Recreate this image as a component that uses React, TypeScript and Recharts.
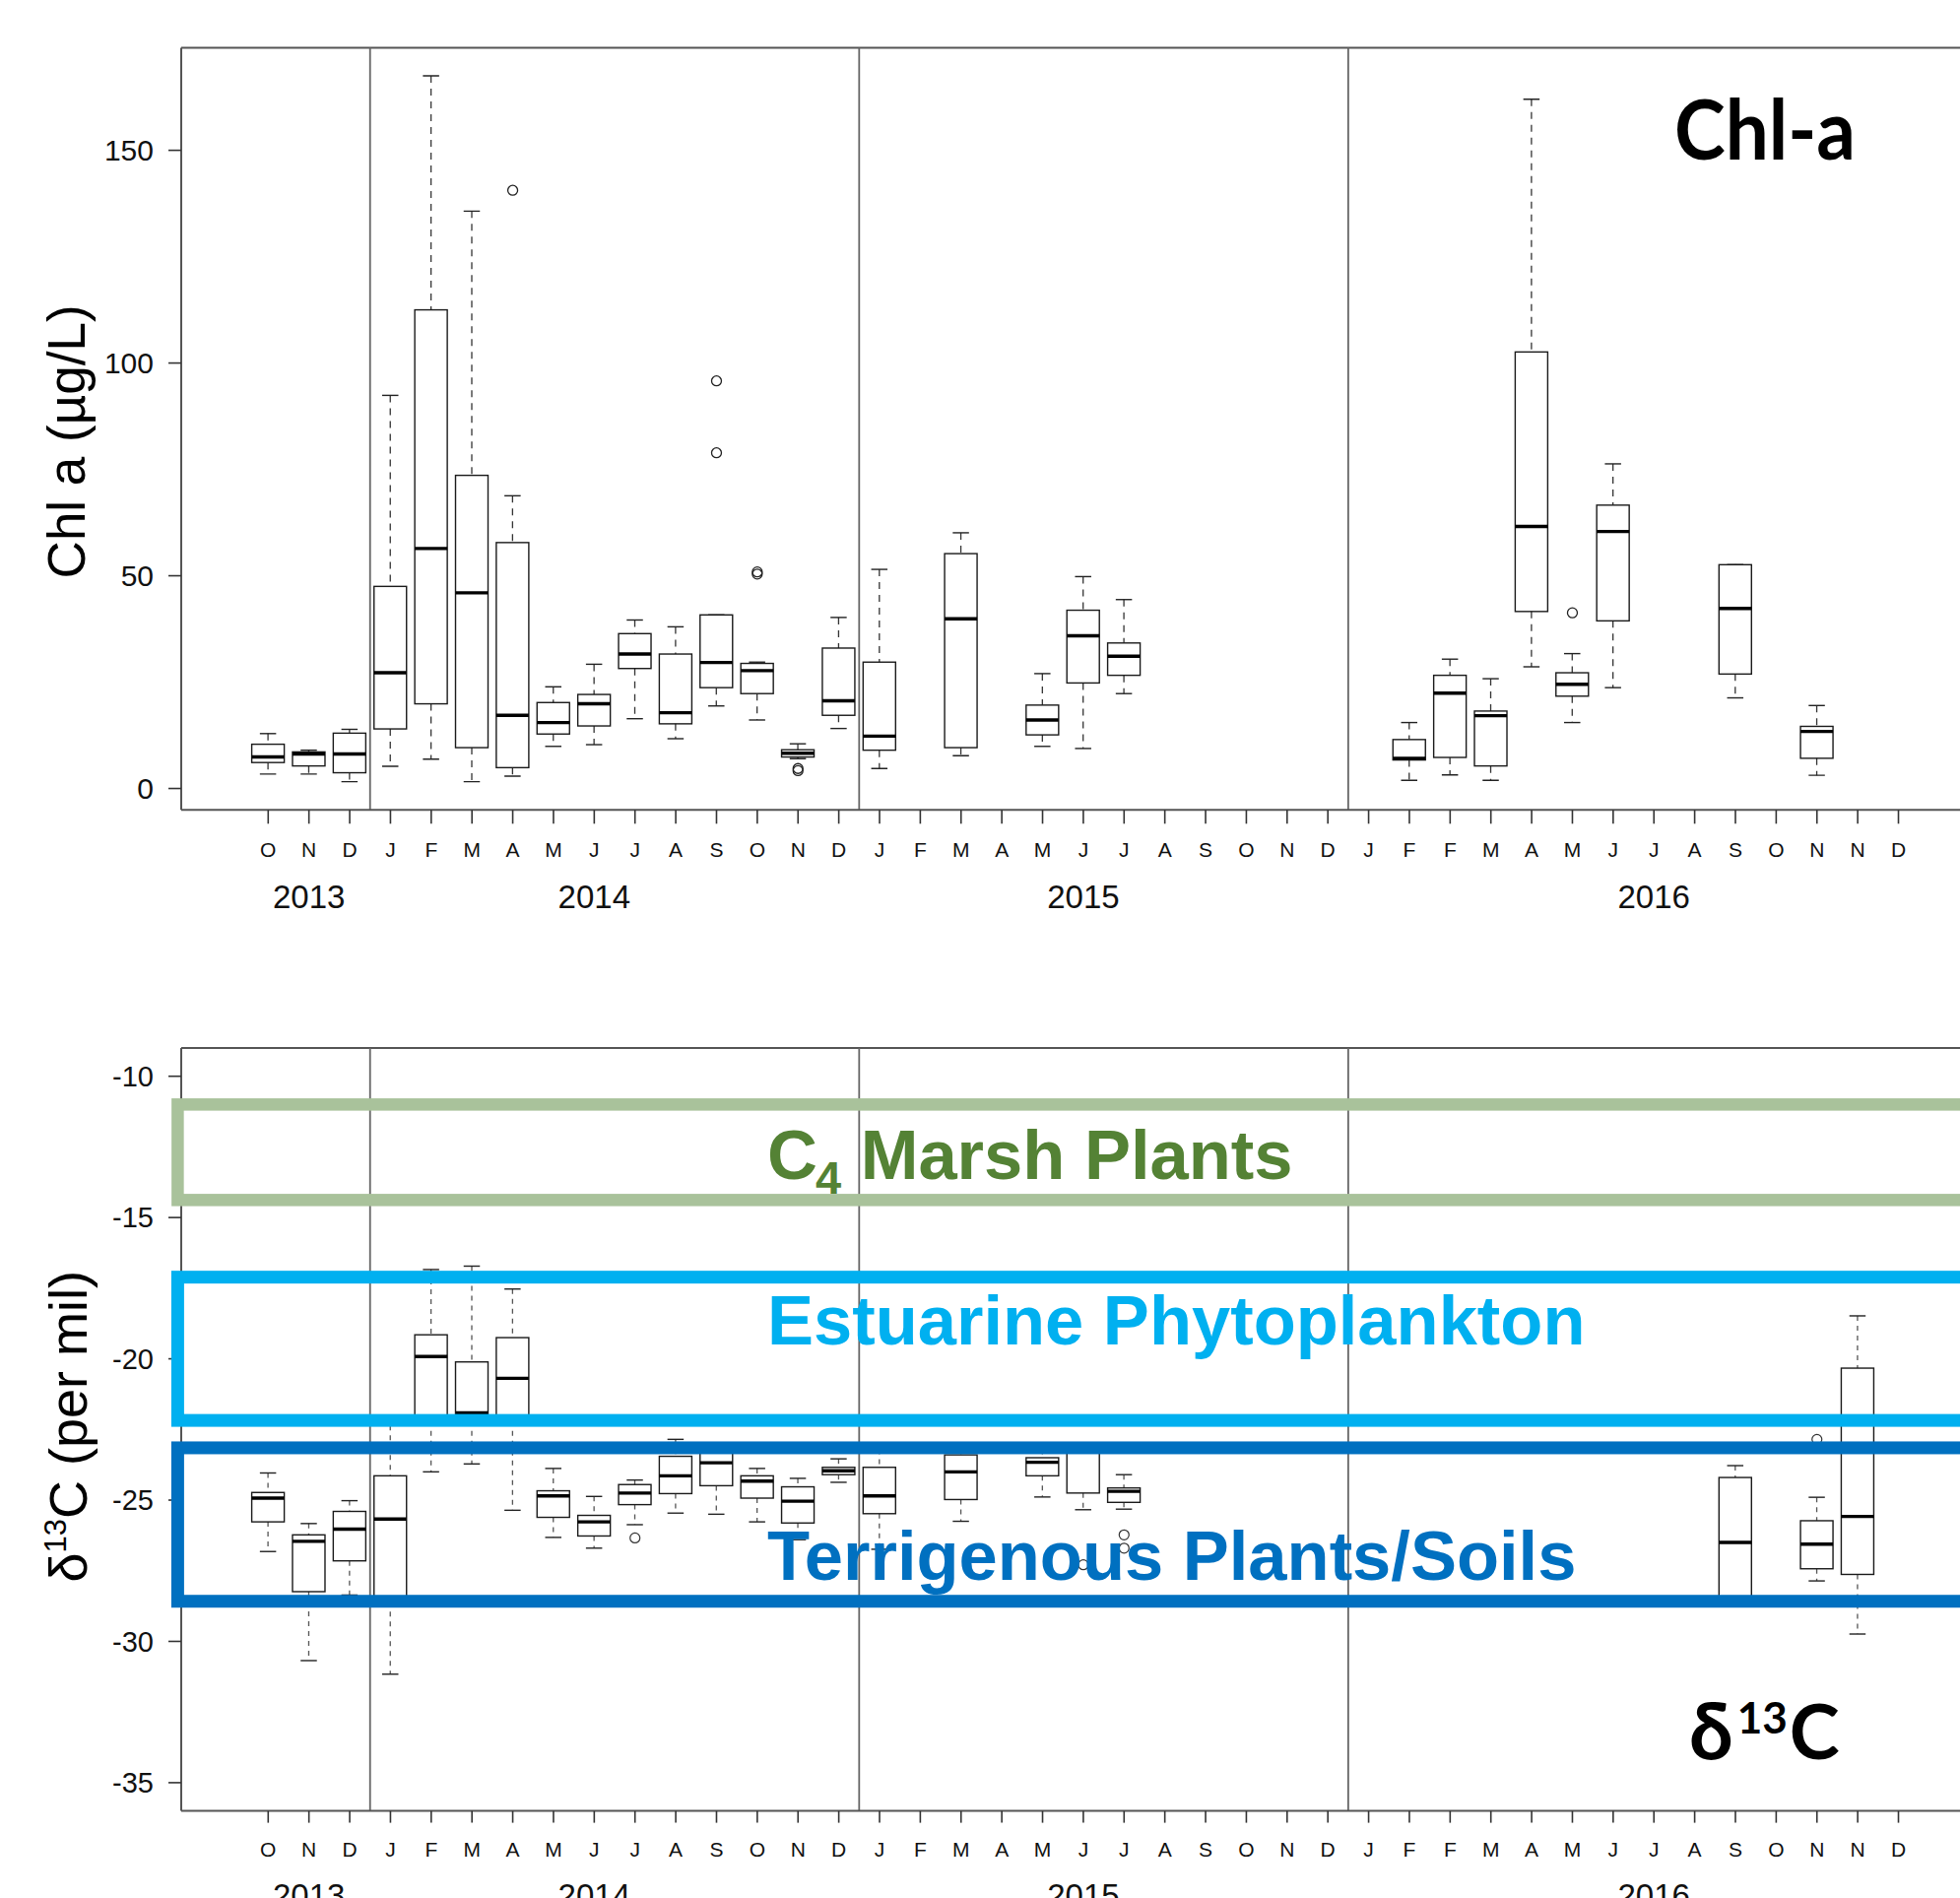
import React from 'react'
import {
  ComposedChart,
  Bar,
  Line,
  XAxis,
  YAxis,
  ReferenceLine,
  ReferenceArea,
  Label,
  Customized,
} from 'recharts'

// month ticks, Oct 2013 .. Dec 2016 (2016 has two F and two N sampling slots)
const months = [
  'O', 'N', 'D',
  'J', 'F', 'M', 'A', 'M', 'J', 'J', 'A', 'S', 'O', 'N', 'D',
  'J', 'F', 'M', 'A', 'M', 'J', 'J', 'A', 'S', 'O', 'N', 'D',
  'J', 'F', 'F', 'M', 'A', 'M', 'J', 'J', 'A', 'S', 'O', 'N', 'N', 'D',
]
const yearLabels: Record<number, string> = { 1: '2013', 8: '2014', 20: '2015', 34: '2016' }
const yearStarts = [3, 15, 27]

// Chl a (µg/L) box stats
const chlLow = [3.4, 3.4, 1.6, 5.2, 6.9, 1.6, 2.9, 9.9, 10.3, 16.4, 11.7, 19.4, 16.1, 7.0, 14.1, 4.7, null, 7.7, null, 9.9, 9.4, 22.3, null, null, null, null, null, null, 1.9, 3.2, 1.9, 28.6, 15.5, 23.7, null, null, 21.3, null, 3.1, null, null]
const chlQ1 = [6.1, 5.3, 3.7, 14.0, 19.9, 9.6, 4.9, 12.8, 14.7, 28.2, 15.2, 23.7, 22.3, 7.4, 17.2, 9.0, null, 9.6, null, 12.6, 24.8, 26.6, null, null, null, null, null, null, 6.7, 7.3, 5.3, 41.6, 21.7, 39.4, null, null, 26.9, null, 7.1, null, null]
const chlMed = [7.4, 8.1, 8.1, 27.2, 56.4, 46.0, 17.2, 15.5, 19.9, 31.6, 17.8, 29.6, 27.7, 8.3, 20.6, 12.3, null, 39.9, null, 16.1, 35.9, 31.1, null, null, null, null, null, null, 7.1, 22.4, 17.1, 61.6, 24.5, 60.4, null, null, 42.3, null, 13.4, null, null]
const chlQ3 = [10.4, 8.6, 13.0, 47.5, 112.5, 73.6, 57.8, 20.2, 22.1, 36.4, 31.6, 40.8, 29.4, 9.1, 33.0, 29.7, null, 55.2, null, 19.6, 41.9, 34.2, null, null, null, null, null, null, 11.5, 26.6, 18.2, 102.6, 27.2, 66.6, null, null, 52.6, null, 14.6, null, null]
const chlHigh = [12.9, 9.0, 13.9, 92.4, 167.5, 135.7, 68.8, 23.9, 29.2, 39.6, 38.0, 40.8, 29.7, 10.5, 40.2, 51.5, null, 60.1, null, 27.0, 49.8, 44.4, null, null, null, null, null, null, 15.5, 30.4, 25.8, 162.0, 31.7, 76.3, null, null, 52.6, null, 19.5, null, null]
const chlOutA: Record<number, number> = { 6: 140.6, 11: 95.8, 12: 50.4, 13: 4.2, 32: 41.3 }
const chlOutB: Record<number, number> = { 11: 78.9, 12: 50.9, 13: 4.7 }

// δ13C (per mil) box stats
const d13Low = [-26.82, -30.68, -28.36, -31.16, -24.0, -23.72, -25.36, -26.32, -26.7, -25.87, -25.46, -25.5, -25.77, -26.4, -24.37, -26.74, null, -25.75, null, -24.89, -25.34, -25.32, null, null, null, null, null, null, null, null, null, null, null, null, null, null, -28.6, null, -27.86, -29.74, null]
const d13Q1 = [-25.77, -28.24, -27.15, -28.6, -22.2, -22.2, -22.2, -25.61, -26.27, -25.16, -24.77, -24.49, -24.93, -25.81, -24.1, -25.48, null, -24.98, null, -24.14, -24.75, -25.08, null, null, null, null, null, null, null, null, null, null, null, null, null, null, -28.6, null, -27.43, -27.63, null]
const d13Med = [-24.93, -26.46, -26.03, -25.67, -19.92, -21.91, -20.69, -24.85, -25.77, -24.75, -24.14, -23.68, -24.33, -25.04, -23.96, -24.85, null, -24.0, null, -23.66, -23.3, -24.69, null, null, null, null, null, null, null, null, null, null, null, null, null, null, -26.5, null, -26.56, -25.58, null]
const d13Q3 = [-24.73, -26.23, -25.4, -24.14, -19.15, -20.11, -19.25, -24.67, -25.54, -24.45, -23.45, -23.3, -24.14, -24.53, -23.84, -23.84, null, -23.4, null, -23.5, -23.3, -24.57, null, null, null, null, null, null, null, null, null, null, null, null, null, null, -24.2, null, -25.73, -20.33, null]
const d13High = [-24.04, -25.83, -25.02, -22.36, -16.84, -16.72, -17.53, -23.88, -24.87, -24.29, -22.85, -23.2, -23.88, -24.23, -23.54, -23.2, null, -23.2, null, -23.2, -23.2, -24.1, null, null, null, null, null, null, null, null, null, null, null, null, null, null, -23.78, null, -24.9, -18.48, null]
const d13OutA: Record<number, number> = { 9: -26.34, 20: -27.29, 21: -26.23, 38: -22.85 }
const d13OutB: Record<number, number> = { 21: -26.7 }

// source end-member ranges (per mil)
const c4Range = [-14.38, -11.0]
const phytoRange = [-22.18, -17.11]
const terrRange = [-28.58, -23.15]

const chlDomain = [-5.04, 174.1]
const d13Domain = [-36, -9]

const AXIS_FONT = '"Liberation Sans", Arial, Helvetica, sans-serif'
const TAG_FONT = 'Lato, "Open Sans", "Noto Sans", sans-serif'

// category padding on the x axis; the source boxes start a bit left of the plot edge
const PAD_LEFT = 67.6
const BAND_OVERHANG = 3.6

const buildRows = (lo: any[], q1: any[], med: any[], q3: any[], hi: any[], oa: Record<number, number>, ob: Record<number, number>) =>
  months.map((m, i) => ({
    idx: i,
    lo: lo[i],
    q1: q1[i],
    med: med[i],
    q3: q3[i],
    hi: hi[i],
    o1: oa[i] ?? null,
    o2: ob[i] ?? null,
  }))

const chlRows = buildRows(chlLow, chlQ1, chlMed, chlQ3, chlHigh, chlOutA, chlOutB)
const d13Rows = buildRows(d13Low, d13Q1, d13Med, d13Q3, d13High, d13OutA, d13OutB)

const BoxShape = (props: any) => {
  const { x, y, width, height, payload, dash, whiskerColor } = props
  if (!payload || payload.lo == null || !Number.isFinite(y) || !Number.isFinite(height)) return <g />
  const { lo, q1, med, q3, hi } = payload
  const k = height / (hi - lo)
  const py = (v: number) => y + (hi - v) * k
  const cx = x + width / 2
  const cap = width / 4
  return (
    <g>
      <line x1={cx} x2={cx} y1={py(hi)} y2={py(q3)} stroke={whiskerColor} strokeWidth={1.3} strokeDasharray={dash} />
      <line x1={cx} x2={cx} y1={py(q1)} y2={py(lo)} stroke={whiskerColor} strokeWidth={1.3} strokeDasharray={dash} />
      <line x1={cx - cap} x2={cx + cap} y1={py(hi)} y2={py(hi)} stroke="#222" strokeWidth={1.4} />
      <line x1={cx - cap} x2={cx + cap} y1={py(lo)} y2={py(lo)} stroke="#222" strokeWidth={1.4} />
      <rect x={x} y={py(q3)} width={width} height={py(q1) - py(q3)} fill="none" stroke="#1a1a1a" strokeWidth={1.4} />
      <line x1={x} x2={x + width} y1={py(med)} y2={py(med)} stroke="#000" strokeWidth={3.4} />
    </g>
  )
}

const MonthTick = (props: any) => {
  const { x, y, payload, monthDy, yearDy } = props
  const i = payload.value
  return (
    <g>
      <text x={x} y={y + monthDy} textAnchor="middle" fontSize={21} fontFamily={AXIS_FONT} fill="#111">
        {months[i]}
      </text>
      {yearLabels[i] && (
        <text x={x} y={y + yearDy} textAnchor="middle" fontSize={33} fontFamily={AXIS_FONT} fill="#111">
          {yearLabels[i]}
        </text>
      )}
    </g>
  )
}

const chlTitle = (props: any) => {
  const vb = props.viewBox || { x: 0, y: 48.5, width: 184, height: 774 }
  const cy = vb.y + vb.height / 2 + 13
  return (
    <text transform={`translate(${vb.x + 86}, ${cy}) rotate(-90)`} textAnchor="middle" fontSize={53} fontFamily={AXIS_FONT} fill="#000">
      Chl a (µg/L)
    </text>
  )
}

const d13Title = (props: any) => {
  const vb = props.viewBox || { x: 0, y: 44, width: 184, height: 775 }
  const cy = vb.y + vb.height / 2 - 3
  return (
    <text transform={`translate(${vb.x + 88}, ${cy}) rotate(-90)`} textAnchor="middle" fontSize={54} fontFamily={AXIS_FONT} fill="#000">
      δ<tspan fontSize={31} dy={-21}>13</tspan>
      <tspan dy={21}>C (per mil)</tspan>
    </text>
  )
}

// band outline stretched to the full plot width (the category area itself starts after the axis padding)
const bandShape = (color: string, sw: number) => (p: any) => (
  <rect
    x={p.x - PAD_LEFT - BAND_OVERHANG}
    y={p.y}
    width={p.width + PAD_LEFT + 200}
    height={p.height}
    fill="none"
    stroke={color}
    strokeWidth={sw}
  />
)

const bandLabel = (text: React.ReactNode, color: string, dyFromCenter: number) => (props: any) => {
  const vb = props.viewBox
  if (!vb) return null
  return (
    <text x={vb.x - PAD_LEFT + 595} y={vb.y + vb.height / 2 + dyFromCenter} fontSize={70.5} fontWeight={700} fontFamily={AXIS_FONT} fill={color}>
      {text}
    </text>
  )
}

const c4Text = (
  <>
    C<tspan fontSize={47} dy={15} dx={-2}>4</tspan>
    <tspan dy={-15}> Marsh Plants</tspan>
  </>
)

const ChlTag = () => (
  <text x={1700} y={162} fontSize={84} fontWeight={700} fontFamily={TAG_FONT} fill="#000" textLength={184} lengthAdjust="spacingAndGlyphs">
    Chl-a
  </text>
)

const D13Tag = () => (
  <text x={1715} y={766} fontWeight={700} fontFamily={TAG_FONT} fill="#000">
    <tspan fontSize={80}>δ</tspan>
    <tspan fontSize={44} dy={-26} dx={4}>13</tspan>
    <tspan fontSize={77} dy={26} dx={2}>C</tspan>
  </text>
)

const FRAME = '#555'

export default function App() {
  return (
    <div style={{ position: 'absolute', left: 0, top: 0, width: 1990, height: 1927, overflow: 'hidden', background: '#fff' }}>
      <div style={{ position: 'absolute', left: 0, top: 0 }}>
        <ComposedChart width={2000} height={1020} data={chlRows} margin={{ top: 48.5, right: 0, bottom: 0, left: 0 }}>
          <XAxis
            dataKey="idx"
            type="category"
            height={197.7}
            interval={0}
            padding={{ left: PAD_LEFT, right: 51.8 }}
            tickSize={14}
            tickMargin={0}
            axisLine={{ stroke: FRAME, strokeWidth: 2 }}
            tickLine={{ stroke: '#333', strokeWidth: 1.6 }}
            tick={<MonthTick monthDy={34} yearDy={85.2} />}
          />
          <YAxis
            type="number"
            domain={chlDomain}
            allowDataOverflow
            ticks={[0, 50, 100, 150]}
            width={184}
            tickSize={13}
            tickMargin={15}
            axisLine={{ stroke: FRAME, strokeWidth: 2 }}
            tickLine={{ stroke: '#333', strokeWidth: 1.6 }}
            tick={{ fontSize: 30, fill: '#111', fontFamily: AXIS_FONT }}
          >
            <Label content={chlTitle} />
          </YAxis>
          <ReferenceLine y={chlDomain[1]} stroke={FRAME} strokeWidth={2} />
          {yearStarts.map(i => (
            <ReferenceLine key={i} x={i} position="start" stroke="#666" strokeWidth={1.8} />
          ))}
          <Bar
            dataKey={(d: any) => (d.lo == null ? null : [d.lo, d.hi])}
            barSize={33}
            isAnimationActive={false}
            shape={(p: any) => <BoxShape {...p} dash="7 6" whiskerColor="#333" />}
          />
          <Line dataKey="o1" stroke="none" dot={{ r: 5, fill: 'none', stroke: '#222', strokeWidth: 1.3 }} activeDot={false} isAnimationActive={false} />
          <Line dataKey="o2" stroke="none" dot={{ r: 5, fill: 'none', stroke: '#222', strokeWidth: 1.3 }} activeDot={false} isAnimationActive={false} />
          <Customized component={<ChlTag />} />
        </ComposedChart>
      </div>
      <div style={{ position: 'absolute', left: 0, top: 1020 }}>
        <ComposedChart width={2000} height={907} data={d13Rows} margin={{ top: 44, right: 0, bottom: 0, left: 0 }}>
          <XAxis
            dataKey="idx"
            type="category"
            height={88.4}
            interval={0}
            padding={{ left: PAD_LEFT, right: 51.8 }}
            tickSize={12}
            tickMargin={0}
            axisLine={{ stroke: FRAME, strokeWidth: 2 }}
            tickLine={{ stroke: '#333', strokeWidth: 1.6 }}
            tick={<MonthTick monthDy={34.6} yearDy={85} />}
          />
          <YAxis
            type="number"
            domain={d13Domain}
            allowDataOverflow
            ticks={[-10, -15, -20, -25, -30, -35]}
            width={184}
            tickSize={13}
            tickMargin={15}
            axisLine={{ stroke: FRAME, strokeWidth: 2 }}
            tickLine={{ stroke: '#333', strokeWidth: 1.6 }}
            tick={{ fontSize: 29, fill: '#111', fontFamily: AXIS_FONT }}
          >
            <Label content={d13Title} />
          </YAxis>
          <ReferenceLine y={d13Domain[1]} stroke={FRAME} strokeWidth={2} />
          {yearStarts.map(i => (
            <ReferenceLine key={i} x={i} position="start" stroke="#666" strokeWidth={1.8} />
          ))}
          <Bar
            dataKey={(d: any) => (d.lo == null ? null : [d.lo, d.hi])}
            barSize={33}
            isAnimationActive={false}
            shape={(p: any) => <BoxShape {...p} dash="5 5" whiskerColor="#555" />}
          />
          <Line dataKey="o1" stroke="none" dot={{ r: 5, fill: 'none', stroke: '#333', strokeWidth: 1.2 }} activeDot={false} isAnimationActive={false} />
          <Line dataKey="o2" stroke="none" dot={{ r: 5, fill: 'none', stroke: '#333', strokeWidth: 1.2 }} activeDot={false} isAnimationActive={false} />
          <ReferenceArea
            y1={c4Range[0]}
            y2={c4Range[1]}
            zIndex={700}
            shape={bandShape('#a9c29b', 12.5)}
            label={<Label content={bandLabel(c4Text, '#548235', 27)} />}
          />
          <ReferenceArea
            y1={phytoRange[0]}
            y2={phytoRange[1]}
            zIndex={700}
            shape={bandShape('#00b0f0', 13)}
            label={<Label content={bandLabel('Estuarine Phytoplankton', '#00b0f0', -4.4)} />}
          />
          <ReferenceArea
            y1={terrRange[0]}
            y2={terrRange[1]}
            zIndex={700}
            shape={bandShape('#0070c0', 13)}
            label={<Label content={bandLabel('Terrigenous Plants/Soils', '#0070c0', 56)} />}
          />
          <Customized component={<D13Tag />} />
        </ComposedChart>
      </div>
    </div>
  )
}
